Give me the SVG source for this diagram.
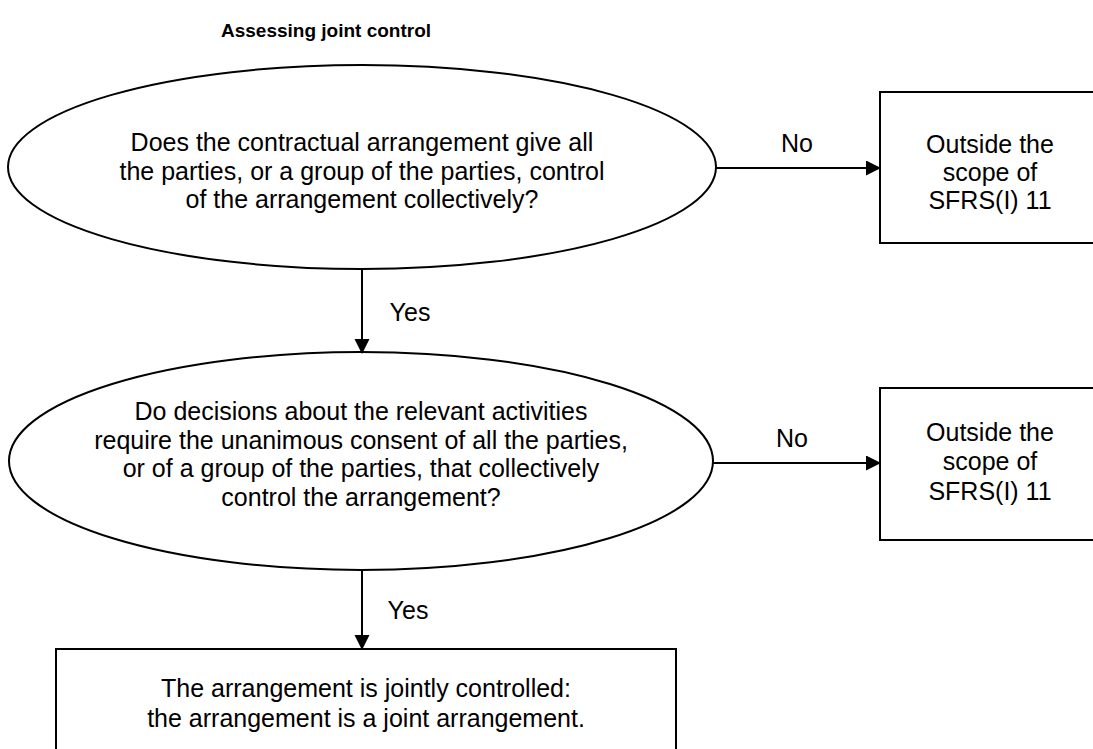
<svg xmlns="http://www.w3.org/2000/svg" width="1093" height="749" viewBox="0 0 1093 749">
<style>
  .shape { fill: #ffffff; stroke: #000000; stroke-width: 2; }
  .t { font-family: "Liberation Sans", Arial, sans-serif; font-size: 25px; fill: #000000; text-anchor: middle; }
  .title { font-family: "Liberation Sans", Arial, sans-serif; font-size: 19px; font-weight: bold; fill: #000000; }
  .conn { stroke: #000000; stroke-width: 2; fill: none; }
</style>
<defs>
  <marker id="arrow" markerWidth="16" markerHeight="16" refX="14" refY="7.5" orient="auto" markerUnits="userSpaceOnUse">
    <path d="M0,0 L15,7.5 L0,15 Z" fill="#000000"/>
  </marker>
</defs>
<rect width="1093" height="749" fill="#ffffff"/>
<text class="title" x="221" y="37">Assessing joint control</text>

<g id="q1">
  <ellipse class="shape" cx="362" cy="167" rx="354" ry="102"/>
  <text class="t" x="362" y="151">Does the contractual arrangement give all</text>
  <text class="t" x="362" y="180">the parties, or a group of the parties, control</text>
  <text class="t" x="362" y="208">of the arrangement collectively?</text>
</g>

<g id="out1">
  <rect class="shape" x="880" y="92" width="222" height="151"/>
  <text class="t" x="990" y="153">Outside the</text>
  <text class="t" x="990" y="181">scope of</text>
  <text class="t" x="990" y="209">SFRS(I) 11</text>
</g>

<g id="q2">
  <ellipse class="shape" cx="361" cy="461" rx="352" ry="109"/>
  <text class="t" x="361" y="420">Do decisions about the relevant activities</text>
  <text class="t" x="361" y="449">require the unanimous consent of all the parties,</text>
  <text class="t" x="361" y="477">or of a group of the parties, that collectively</text>
  <text class="t" x="361" y="506">control the arrangement?</text>
</g>

<g id="out2">
  <rect class="shape" x="880" y="388" width="222" height="152"/>
  <text class="t" x="990" y="441">Outside the</text>
  <text class="t" x="990" y="470">scope of</text>
  <text class="t" x="990" y="500">SFRS(I) 11</text>
</g>

<g id="result">
  <rect class="shape" x="56" y="649" width="620" height="110"/>
  <text class="t" x="366" y="697">The arrangement is jointly controlled:</text>
  <text class="t" x="366" y="727">the arrangement is a joint arrangement.</text>
</g>

<g id="connectors">
  <line class="conn" x1="716" y1="168" x2="880" y2="168" marker-end="url(#arrow)"/>
  <text class="t" x="797" y="152">No</text>
  <line class="conn" x1="713" y1="463" x2="880" y2="463" marker-end="url(#arrow)"/>
  <text class="t" x="792" y="447">No</text>
  <line class="conn" x1="362" y1="269" x2="362" y2="353" marker-end="url(#arrow)"/>
  <text class="t" x="410" y="321">Yes</text>
  <line class="conn" x1="362" y1="570" x2="362" y2="649" marker-end="url(#arrow)"/>
  <text class="t" x="408" y="619">Yes</text>
</g>
</svg>
